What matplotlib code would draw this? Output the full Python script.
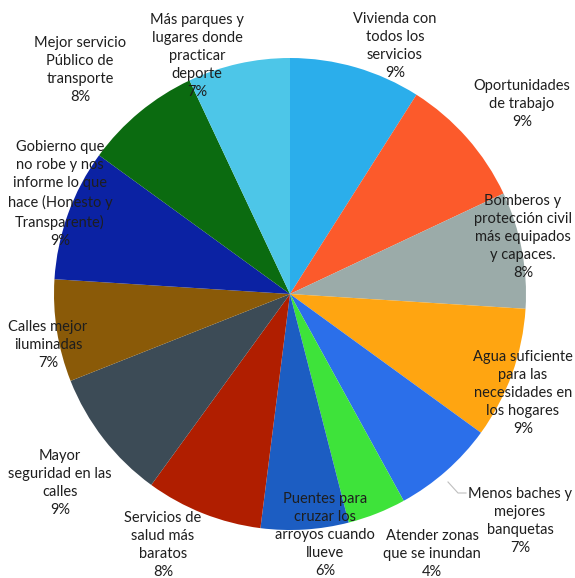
import matplotlib
matplotlib.use("Agg")
import matplotlib.pyplot as plt

# --- DATOS ---
labels = [
    "Vivienda con\ntodos los\nservicios",
    "Oportunidades\nde trabajo",
    "Bomberos y\nprotección civil\nmás equipados\ny capaces.",
    "Agua suficiente\npara las\nnecesidades en\nlos hogares",
    "Menos baches y\nmejores\nbanquetas",
    "Atender zonas\nque se inundan",
    "Puentes para\ncruzar los\narroyos cuando\nllueve",
    "Servicios de\nsalud más\nbaratos",
    "Mayor\nseguridad en las\ncalles",
    "Calles mejor\niluminadas",
    "Gobierno que\nno robe y nos\ninforme lo que\nhace (Honesto y\nTransparente)",
    "Mejor servicio\nPúblico de\ntransporte",
    "Más parques y\nlugares donde\npracticar\ndeporte",
]
values = [9, 9, 8, 9, 7, 4, 6, 8, 9, 7, 9, 8, 7]
colors = [
    "#2BAEEB", "#FC5A2B", "#9BABA9", "#FFA511", "#2B6FEA", "#3EE33A",
    "#1C5DC2", "#B01E00", "#3C4B56", "#8A5A08", "#0B22A3", "#0B6B10",
    "#4DC6E8",
]

# --- LAYOUT (píxeles desde arriba a la izquierda) ---
W, H = 575, 578
CENTER = (290, 294)
RADIUS = 236
label_pos = [
    (395, 46), (522, 104), (523, 237), (523, 393), (520, 521),
    (432, 554), (325, 535), (163, 545), (60, 483), (48, 345),
    (60, 194), (80, 70), (197, 56),
]
TEXT_COLOR = "#1E1E1E"

plt.rcParams['font.family'] = ['Lato', 'DejaVu Sans']

fig = plt.figure(figsize=(W / 100, H / 100), dpi=100)
ax = fig.add_axes([0, 0, 1, 1])

ax.pie(values, colors=colors, startangle=90, counterclock=False,
       center=(CENTER[0], H - CENTER[1]), radius=RADIUS,
       wedgeprops=dict(linewidth=0))

ax.set_xlim(0, W)
ax.set_ylim(0, H)
ax.set_aspect('equal')
ax.axis('off')

for lab, val, (x, y) in zip(labels, values, label_pos):
    ax.text(x, H - y, f"{lab}\n{val}%", ha='center', va='center',
            fontsize=10.5, color=TEXT_COLOR, linespacing=1.38)

# línea guía de "Menos baches"
ax.plot([448, 458, 466], [H - 482, H - 493, H - 493], color="#BFBFBF", lw=0.8)

fig.savefig("out.png", dpi=100, facecolor="white")
